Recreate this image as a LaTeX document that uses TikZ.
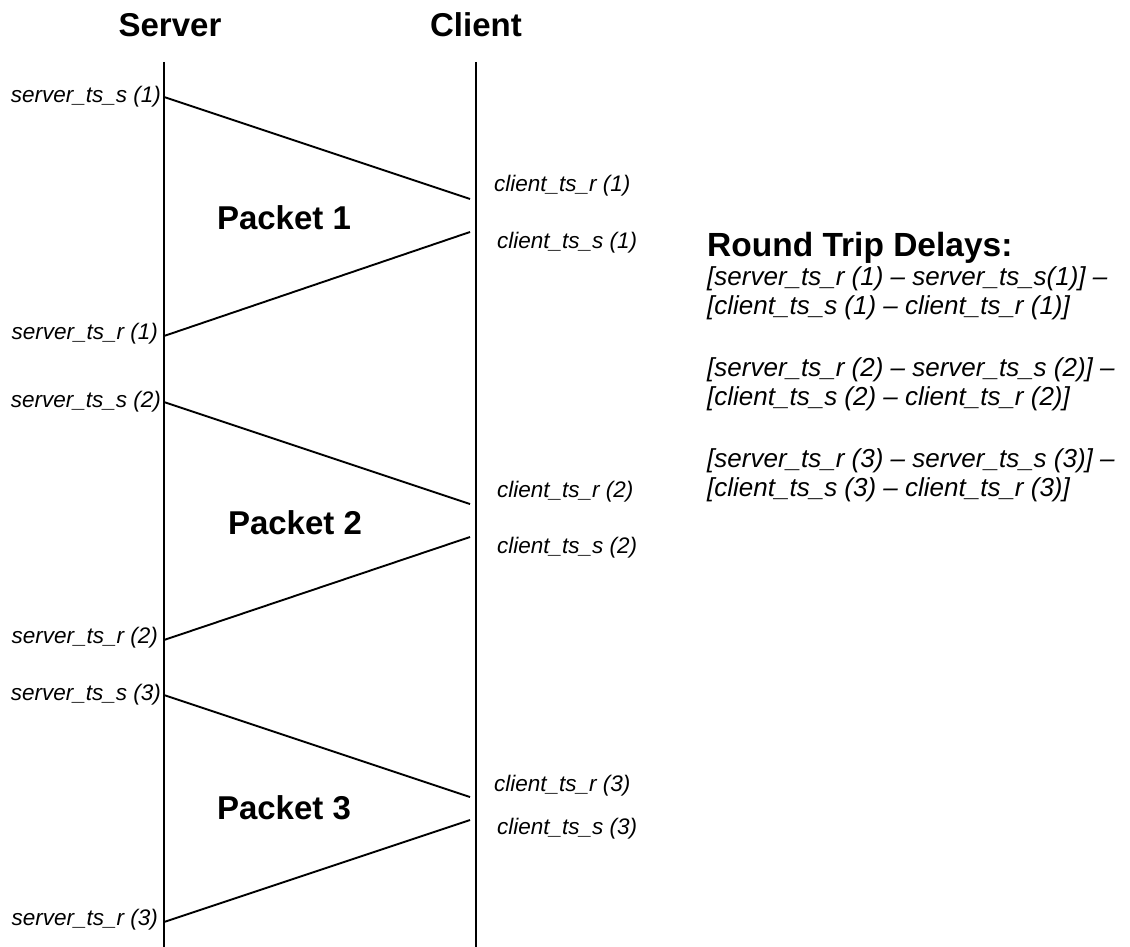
\documentclass[tikz,border=0pt]{standalone}
\usepackage{fontspec}
\setmainfont{Liberation Sans}
\begin{document}
\begin{tikzpicture}[x=1pt,y=-1pt,
  lifeline/.style={line width=2pt},
  msg/.style={line width=1.9pt},
  title/.style={font=\fontsize{33}{38}\selectfont\bfseries, inner sep=0pt, anchor=base},
  packet/.style={font=\fontsize{33}{38}\selectfont\bfseries, inner sep=0pt},
  slabel/.style={font=\fontsize{22.5}{26}\selectfont\itshape, inner sep=0pt, anchor=east},
  clabel/.style={font=\fontsize{22.5}{26}\selectfont\itshape, inner sep=0pt, anchor=west},
  formula/.style={font=\fontsize{26}{29}\selectfont\itshape, inner sep=0pt, anchor=base west}
]
\useasboundingbox (0,0) rectangle (1130,947);
% headers
\node[title] (server) at (170,37) {Server};
\node[title] (client) at (476,37) {Client};
% lifelines
\coordinate (stop) at (164,62);
\coordinate (sbot) at (164,947);
\coordinate (ctop) at (476,62);
\coordinate (cbot) at (476,947);
\draw[lifeline] (stop) -- (sbot);
\draw[lifeline] (ctop) -- (cbot);
% message end points
\coordinate (s1) at (164,97);   \coordinate (c1) at (470,199);
\coordinate (c2) at (470,232);  \coordinate (s2) at (164,336);
\coordinate (s3) at (164,402);  \coordinate (c3) at (470,504);
\coordinate (c4) at (470,537);  \coordinate (s4) at (164,640);
\coordinate (s5) at (164,695);  \coordinate (c5) at (470,797);
\coordinate (c6) at (470,820);  \coordinate (s6) at (164,922);
\draw[msg] (s1) -- (c1);
\draw[msg] (c2) -- (s2);
\draw[msg] (s3) -- (c3);
\draw[msg] (c4) -- (s4);
\draw[msg] (s5) -- (c5);
\draw[msg] (c6) -- (s6);
% server labels
\node[slabel] (ls1) at (161,97) {server\_ts\_s (1)};
\node[slabel] (ls2) at (158,334) {server\_ts\_r (1)};
\node[slabel] (ls3) at (161,402) {server\_ts\_s (2)};
\node[slabel] (ls4) at (158,638) {server\_ts\_r (2)};
\node[slabel] (ls5) at (161,695) {server\_ts\_s (3)};
\node[slabel] (ls6) at (158,920) {server\_ts\_r (3)};
% client labels
\node[clabel] (lc1) at (494,186) {client\_ts\_r (1)};
\node[clabel] (lc2) at (497,243) {client\_ts\_s (1)};
\node[clabel] (lc3) at (497,492) {client\_ts\_r (2)};
\node[clabel] (lc4) at (497,548) {client\_ts\_s (2)};
\node[clabel] (lc5) at (494,786) {client\_ts\_r (3)};
\node[clabel] (lc6) at (497,829) {client\_ts\_s (3)};
% packets
\node[packet] (p1) at (284,218) {Packet 1};
\node[packet] (p2) at (295,523) {Packet 2};
\node[packet] (p3) at (284,808) {Packet 3};
% round trip delays
\node[font=\fontsize{33.5}{38}\selectfont\bfseries, inner sep=0pt, anchor=base west] (rtd) at (707,256) {Round Trip Delays:};
\node[formula] (f1) at (707,285) {[server\_ts\_r (1) -- server\_ts\_s(1)] --};
\node[formula] (f2) at (707,314) {[client\_ts\_s (1) -- client\_ts\_r (1)]};
\node[formula] (f3) at (707,376) {[server\_ts\_r (2) -- server\_ts\_s (2)] --};
\node[formula] (f4) at (707,405) {[client\_ts\_s (2) -- client\_ts\_r (2)]};
\node[formula] (f5) at (707,467) {[server\_ts\_r (3) -- server\_ts\_s (3)] --};
\node[formula] (f6) at (707,496) {[client\_ts\_s (3) -- client\_ts\_r (3)]};
\end{tikzpicture}
\end{document}
